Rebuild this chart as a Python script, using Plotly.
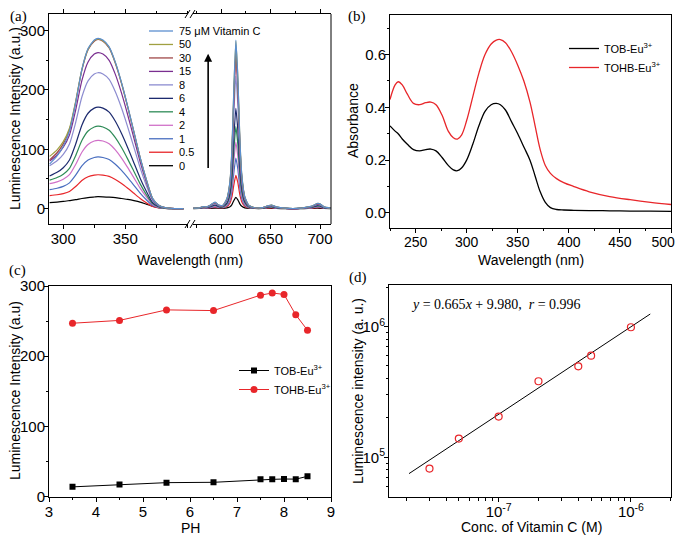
import plotly.graph_objects as go

# page has an 8px body margin; the figure fills the rest of the 685x537 window
OFF = 8
W, H = 685 - OFF, 537 - OFF
def px(x): return (x - OFF) / W
def py(y): return 1 - (y - OFF) / H

SANS = "Liberation Sans"
SERIF = "Liberation Serif"

# ---------------- (a) luminescence spectra ----------------
conc_names = ["0", "0.5", "1", "2", "4", "6", "8", "15", "30", "50", "75 μM Vitamin C"]
conc_colors = ["#000000", "#e8262a", "#4a6fc0", "#d070c8", "#2e8b57", "#1c2a6e",
               "#8c8cd0", "#7a2e90", "#a04848", "#a0a040", "#5b8fd0"]
wl_left = [289, 295, 300, 305, 310, 315, 320, 325, 328, 332, 337, 342, 347, 352, 357, 362, 367, 372, 377, 382, 390, 397]
left_0 = [10, 11, 12, 13.5, 15, 17, 18.5, 19.5, 20, 19.8, 19.3, 18.5, 17, 15.5, 13.5, 11, 7.5, 4, 1.5, 0.5, 0, 0]
left_05 = [22, 23.3, 25.1, 28.8, 37.1, 47.2, 53.6, 56.4, 57, 56.4, 54.2, 49, 42.2, 34.2, 25.7, 17.1, 9.7, 3.4, 1.1, 0.3, 0, 0]
left_1 = [32, 34.3, 37.4, 43.3, 56.3, 71.9, 81.8, 86.1, 87, 86.1, 82.7, 74.8, 64.4, 52.2, 39.2, 26.1, 14.8, 5.2, 1.7, 0.5, 0, 0]
left_2 = [42, 45.1, 49.4, 57.1, 74.4, 95, 108.1, 113.9, 115, 113.9, 109.3, 98.9, 85.1, 69, 51.8, 34.5, 19.6, 6.9, 2.3, 0.7, 0, 0]
left_4 = [48, 52.3, 58, 67.8, 89.2, 114.6, 130.7, 137.6, 139, 137.6, 132, 119.5, 102.9, 83.4, 62.6, 41.7, 23.6, 8.3, 2.8, 0.8, 0, 0]
left_6 = [55, 61.1, 68.9, 81.9, 108.6, 140.6, 160.7, 169.3, 171, 169.3, 162.5, 147.1, 126.5, 102.6, 77, 51.3, 29.1, 10.3, 3.4, 1, 0, 0]
left_8 = [72, 80.5, 91.3, 108.9, 145.1, 188.1, 215.3, 226.7, 229, 226.7, 217.6, 196.9, 169.5, 137.4, 103.1, 68.7, 38.9, 13.7, 4.6, 1.4, 0, 0]
left_15 = [80, 90.3, 103.3, 124, 166, 215.7, 247.2, 260.4, 263, 260.4, 249.9, 226.2, 194.6, 157.8, 118.4, 78.9, 44.7, 15.8, 5.3, 1.6, 0, 0]
left_30 = [82, 94.1, 109.1, 132.6, 178.7, 233.4, 267.9, 282.2, 285, 282.2, 270.8, 245.1, 210.9, 171, 128.3, 85.5, 48.5, 17.1, 5.7, 1.7, 0, 0]
left_50 = [88, 99, 112.8, 135.3, 180.8, 234.7, 268.8, 283.1, 286, 283.1, 271.7, 246, 211.6, 171.6, 128.7, 85.8, 48.6, 17.2, 5.7, 1.7, 0, 0]
left_75 = [75, 88.7, 105.2, 130.5, 178, 234.2, 269.8, 284.1, 287, 284.1, 272.7, 246.8, 212.4, 172.2, 129.2, 86.1, 48.8, 17.2, 5.7, 1.7, 0, 0]

wl_right = [572, 578, 582, 585, 589, 594, 598, 602, 606, 609, 611, 613, 615, 617, 619, 621, 624, 628, 634, 642, 647, 651, 656, 665, 680, 688, 692, 697, 700, 704, 711]
right_0 = [0.0, 0.1, 0.2, 0.2, 0.4, 0.7, 0.4, 0.4, 1.1, 3.0, 6.7, 13.7, 19, 14.8, 8.0, 3.8, 1.3, 0.4, 0.1, 0.1, 0.3, 0.4, 0.2, 0.0, 0.0, 0.2, 0.3, 0.6, 0.5, 0.2, 0.0]
right_05 = [0.1, 0.2, 0.7, 0.6, 1.1, 2.1, 1.1, 1.1, 3.4, 9.0, 19.6, 40.3, 56, 43.7, 23.5, 11.2, 3.9, 1.1, 0.3, 0.3, 0.9, 1.2, 0.6, 0.1, 0.1, 0.6, 0.8, 1.7, 1.6, 0.6, 0.1]
right_1 = [0.2, 0.3, 1.0, 0.9, 1.7, 3.2, 1.7, 1.7, 5.1, 13.6, 29.8, 61.2, 85, 66.3, 35.7, 17, 6.0, 1.7, 0.4, 0.5, 1.4, 1.8, 0.9, 0.2, 0.2, 0.9, 1.3, 2.6, 2.4, 0.9, 0.2]
right_2 = [0.2, 0.4, 1.3, 1.1, 2.2, 4.3, 2.2, 2.2, 6.7, 17.9, 39.2, 80.6, 112, 87.4, 47.0, 22.4, 7.8, 2.2, 0.6, 0.7, 1.8, 2.4, 1.1, 0.2, 0.2, 1.1, 1.7, 3.4, 3.1, 1.1, 0.2]
right_4 = [0.3, 0.6, 1.7, 1.4, 2.8, 5.2, 2.8, 2.8, 8.3, 22.1, 48.3, 99.4, 138, 107.6, 58.0, 27.6, 9.7, 2.8, 0.7, 0.8, 2.2, 2.9, 1.4, 0.3, 0.3, 1.4, 2.1, 4.1, 3.9, 1.4, 0.3]
right_6 = [0.3, 0.7, 2.0, 1.7, 3.4, 6.4, 3.4, 3.4, 10.1, 27.0, 59.2, 121.7, 169, 131.8, 71.0, 33.8, 11.8, 3.4, 0.8, 1.0, 2.7, 3.5, 1.7, 0.3, 0.3, 1.7, 2.5, 5.1, 4.7, 1.7, 0.3]
right_8 = [0.4, 0.9, 2.7, 2.2, 4.5, 8.5, 4.5, 4.5, 13.4, 35.7, 78.1, 160.6, 223, 173.9, 93.7, 44.6, 15.6, 4.5, 1.1, 1.3, 3.6, 4.7, 2.2, 0.4, 0.4, 2.2, 3.3, 6.7, 6.2, 2.2, 0.4]
right_15 = [0.5, 1.0, 3.1, 2.6, 5.2, 9.9, 5.2, 5.2, 15.7, 41.8, 91.4, 187.9, 261, 203.6, 109.6, 52.2, 18.3, 5.2, 1.3, 1.6, 4.2, 5.5, 2.6, 0.5, 0.5, 2.6, 3.9, 7.8, 7.3, 2.6, 0.5]
right_30 = [0.5, 1.1, 3.2, 2.7, 5.3, 10.1, 5.3, 5.3, 15.9, 42.4, 92.8, 190.8, 265, 206.7, 111.3, 53, 18.6, 5.3, 1.3, 1.6, 4.2, 5.6, 2.7, 0.5, 0.5, 2.7, 4.0, 8.0, 7.4, 2.7, 0.5]
right_50 = [0.6, 1.1, 3.4, 2.8, 5.6, 10.7, 5.6, 5.6, 16.9, 45.1, 98.7, 203, 282, 220, 118.4, 56.4, 19.7, 5.6, 1.4, 1.7, 4.5, 5.9, 2.8, 0.6, 0.6, 2.8, 4.2, 8.5, 7.9, 2.8, 0.6]
right_75 = [0.6, 1.1, 3.4, 2.8, 5.7, 10.8, 5.7, 5.7, 17.0, 45.4, 99.4, 204.5, 284, 221.5, 119.3, 56.8, 19.9, 5.7, 1.4, 1.7, 4.5, 6.0, 2.8, 0.6, 0.6, 2.8, 4.3, 8.5, 8.0, 2.8, 0.6]

left_series = [left_0, left_05, left_1, left_2, left_4, left_6, left_8, left_15, left_30, left_50, left_75]
right_series = [right_0, right_05, right_1, right_2, right_4, right_6, right_8, right_15, right_30, right_50, right_75]

# ---------------- (b) absorbance ----------------
wl_abs = [225, 230, 233, 237, 242, 248, 254, 260, 265, 270, 276, 282, 287, 291, 295, 300, 306, 312, 318, 324,
          329, 333, 338, 344, 350, 356, 362, 367, 372, 377, 382, 388, 395, 405, 420, 440, 460, 480, 500]
abs_tohb = [0.43, 0.485, 0.497, 0.485, 0.45, 0.415, 0.41, 0.418, 0.42, 0.41, 0.37, 0.31, 0.285, 0.28, 0.295, 0.35,
            0.44, 0.53, 0.6, 0.64, 0.655, 0.657, 0.645, 0.61, 0.56, 0.5, 0.42, 0.33, 0.24, 0.18, 0.15, 0.13, 0.115,
            0.1, 0.08, 0.062, 0.05, 0.04, 0.032]
abs_tob = [0.33, 0.31, 0.3, 0.28, 0.26, 0.24, 0.235, 0.24, 0.242, 0.235, 0.21, 0.18, 0.163, 0.16, 0.17, 0.2, 0.26,
           0.33, 0.385, 0.41, 0.415, 0.41, 0.39, 0.345, 0.3, 0.25, 0.2, 0.14, 0.08, 0.04, 0.02, 0.013, 0.011, 0.01,
           0.009, 0.008, 0.007, 0.0065, 0.006]
abs_ticks = [250, 300, 350, 400, 450, 500]
abs_ticktext = ["250", "300", "350", "400", "450", "500\u00a0\u00a0\u00a0\u00a0"]

# ---------------- (c) pH ----------------
ph = [3.5, 4.5, 5.5, 6.5, 7.5, 7.75, 8.0, 8.25, 8.5]
ph_tob = [14, 17.5, 20, 20.5, 24.7, 24.7, 25.2, 25, 29]
ph_tohb = [247, 251, 266, 265, 287, 290, 288, 259, 237]

# ---------------- (d) calibration ----------------
conc_m = [3e-8, 5e-8, 1e-7, 2e-7, 4e-7, 5e-7, 1e-6]
lum = [8.2e4, 1.39e5, 2.05e5, 3.82e5, 4.97e5, 6.0e5, 9.9e5]
fit_x = [2.1e-8, 1.4e-6]
fit_y = [7.5e4, 1.25e6]

fig = go.Figure()

for name, col, ly, ry in zip(conc_names, conc_colors, left_series, right_series):
    fig.add_trace(go.Scatter(x=wl_left, y=ly, mode="lines", name=name, showlegend=False,
                             line=dict(color=col, width=1.2, shape="spline", smoothing=0.6),
                             xaxis="x", yaxis="y"))
    fig.add_trace(go.Scatter(x=wl_right, y=ry, mode="lines", name=name, showlegend=False,
                             line=dict(color=col, width=1.2, shape="spline", smoothing=0.5),
                             xaxis="x2", yaxis="y"))

fig.add_trace(go.Scatter(x=wl_abs, y=abs_tob, mode="lines", name="TOB-Eu<sup>3+</sup>",
                         line=dict(color="black", width=1.3, shape="spline"), xaxis="x3", yaxis="y3",
                         legend="legend2"))
fig.add_trace(go.Scatter(x=wl_abs, y=abs_tohb, mode="lines", name="TOHB-Eu<sup>3+</sup>",
                         line=dict(color="#e8262a", width=1.3, shape="spline"), xaxis="x3", yaxis="y3",
                         legend="legend2"))

fig.add_trace(go.Scatter(x=ph, y=ph_tob, mode="lines+markers", name="TOB-Eu<sup>3+</sup>",
                         line=dict(color="black", width=1), marker=dict(symbol="square", size=6, color="black"),
                         xaxis="x4", yaxis="y4", legend="legend3"))
fig.add_trace(go.Scatter(x=ph, y=ph_tohb, mode="lines+markers", name="TOHB-Eu<sup>3+</sup>",
                         line=dict(color="#e8262a", width=1), marker=dict(symbol="circle", size=7, color="#e8262a"),
                         xaxis="x4", yaxis="y4", legend="legend3"))

fig.add_trace(go.Scatter(x=fit_x, y=fit_y, mode="lines", showlegend=False,
                         line=dict(color="black", width=1), xaxis="x5", yaxis="y5"))
fig.add_trace(go.Scatter(x=conc_m, y=lum, mode="markers", showlegend=False,
                         marker=dict(symbol="circle-open", size=7, color="#e8262a", line=dict(width=1.2)),
                         xaxis="x5", yaxis="y5"))

TF = dict(family=SANS, size=15, color="black")
def ax(**kw):
    d = dict(showline=True, linecolor="black", linewidth=1, ticks="outside", ticklen=4, tickwidth=1,
             tickcolor="black", showgrid=False, zeroline=False, tickfont=TF, automargin=False,
             ticklabeloverflow="allow")
    d.update(kw)
    return d

def minor(dt, t0=None):
    return dict(ticks="outside", ticklen=2.5, tickcolor="black", dtick=dt, tick0=t0, showgrid=False)

XS, YS = -3, -4  # tick label standoffs
fig.update_layout(
    width=W, height=H, margin=dict(l=0, r=0, t=0, b=0),
    paper_bgcolor="white", plot_bgcolor="white",
    font=dict(family=SANS, color="black"),
    xaxis=ax(domain=[px(49), px(188)], range=[288.5, 400.6], anchor="y", mirror="ticks",
             tickvals=[300, 350], minor=minor(25, 300), ticklabelstandoff=XS),
    xaxis2=ax(domain=[px(193), px(331)], range=[571.7, 711.1], anchor="y", mirror="ticks",
              tickvals=[600, 650, 700], minor=minor(25, 600), ticklabelstandoff=XS),
    yaxis=ax(domain=[py(224), py(14)], range=[-26, 328], anchor="x", tickvals=[0, 100, 200, 300],
             minor=minor(50, 0), ticklabelstandoff=YS),
    xaxis3=ax(domain=[px(390), px(671)], range=[225, 500], anchor="y3", mirror=True,
              tickvals=abs_ticks, ticktext=abs_ticktext, minor=minor(25, 250), ticklabelstandoff=XS,
              tickfont=dict(family=SANS, size=14, color="black")),
    yaxis3=ax(domain=[py(227.7), py(15)], range=[-0.056, 0.75], anchor="x3", mirror=True,
              tickvals=[0, 0.2, 0.4, 0.6], tickformat=".1f", minor=minor(0.1, 0), ticklabelstandoff=YS),
    xaxis4=ax(domain=[px(49), px(331)], range=[3, 9], anchor="y4", mirror=True,
              tickvals=[3, 4, 5, 6, 7, 8, 9], minor=minor(0.5, 3), ticklabelstandoff=XS),
    yaxis4=ax(domain=[py(496.7), py(286)], range=[0, 300], anchor="x4", mirror=True,
              tickvals=[0, 100, 200, 300], minor=minor(50, 0), ticklabelstandoff=YS),
    xaxis5=ax(domain=[px(389), px(671)], type="log", range=[-7.829, -5.697], anchor="y5", mirror=True,
              tickvals=[1e-7, 1e-6], ticktext=["10<sup>-7</sup>", "10<sup>-6</sup>"], ticklabelstandoff=XS,
              minor=dict(ticks="outside", ticklen=2.5, tickcolor="black", tickmode="array",
                         tickvals=[2e-8, 3e-8, 4e-8, 5e-8, 6e-8, 7e-8, 8e-8, 9e-8,
                                   2e-7, 3e-7, 4e-7, 5e-7, 6e-7, 7e-7, 8e-7, 9e-7, 2e-6])),
    yaxis5=ax(domain=[py(497), py(285)], type="log", range=[4.696, 6.319], anchor="x5", mirror=True,
              tickvals=[1e5, 1e6], ticktext=["10<sup>5</sup>", "10<sup>6</sup>"], ticklabelstandoff=YS,
              minor=dict(ticks="outside", ticklen=2.5, tickcolor="black", tickmode="array",
                         tickvals=[6e4, 7e4, 8e4, 9e4, 2e5, 3e5, 4e5, 5e5, 6e5, 7e5, 8e5, 9e5, 2e6])),
    legend2=dict(x=px(564), y=py(34), xanchor="left", yanchor="top", bgcolor="rgba(0,0,0,0)",
                 font=dict(family=SANS, size=11), itemwidth=30),
    legend3=dict(x=px(234), y=py(356), xanchor="left", yanchor="top", bgcolor="rgba(0,0,0,0)",
                 font=dict(family=SANS, size=11), itemwidth=30),
)

ann = []
def text(x, y, s, size=14, family=SANS, angle=0, anchor="center"):
    ann.append(dict(x=px(x), y=py(y), xref="paper", yref="paper", text=s, showarrow=False,
                    font=dict(family=family, size=size, color="black"), textangle=angle,
                    xanchor=anchor, yanchor="middle"))

text(19, 16, "(a)", 15, SERIF)
text(357, 16, "(b)", 15, SERIF)
text(17, 270, "(c)", 15, SERIF)
text(358, 277, "(d)", 15, SERIF)
text(15, 119, "Luminescence Intensity (a.u.)", 14, angle=-90)
text(190, 260, "Wavelength (nm)", 14)
text(353, 121, "Absorbance", 14, angle=-90)
text(531, 260, "Wavelength (nm)", 14)
text(15, 391, "Luminescence Intensity (a.u)", 14, angle=-90)
text(190, 528, "PH", 14)
text(358, 391, "Luminescence intensity (a. u.)", 14, angle=-90)
text(531, 527, "Conc. of Vitamin C (M)", 14)
text(496, 304, "<i>y</i> = 0.665<i>x</i> + 9.980,&nbsp; <i>r</i> = 0.996", 14, SERIF)

shapes = []
# manual legend for (a): newest concentration on top
for i, (name, col) in enumerate(zip(conc_names[::-1], conc_colors[::-1])):
    yy = 31 + i * 13.47
    shapes.append(dict(type="line", xref="paper", yref="paper", x0=px(149), x1=px(173), y0=py(yy), y1=py(yy),
                       line=dict(color=col, width=1.3)))
    text(177, yy, name, 11, anchor="left")

ann.append(dict(x=587, y=261, xref="x2", yref="y", ax=587, ay=66, axref="x2", ayref="y",
                text="", showarrow=True, arrowhead=2, arrowsize=1, arrowwidth=1.6, arrowcolor="black"))
fig.update_layout(annotations=ann)

shapes.append(dict(type="line", xref="paper", yref="paper", x0=px(331), x1=px(331), y0=py(224), y1=py(14),
                   line=dict(color="black", width=1)))
for yb in (224, 14):
    for dx in (0, 5):
        shapes.append(dict(type="line", xref="paper", yref="paper",
                           x0=px(185 + dx), y0=py(yb + 4), x1=px(190 + dx), y1=py(yb - 4),
                           line=dict(color="black", width=1)))
fig.update_layout(shapes=shapes)

fig.write_html("out.html")
